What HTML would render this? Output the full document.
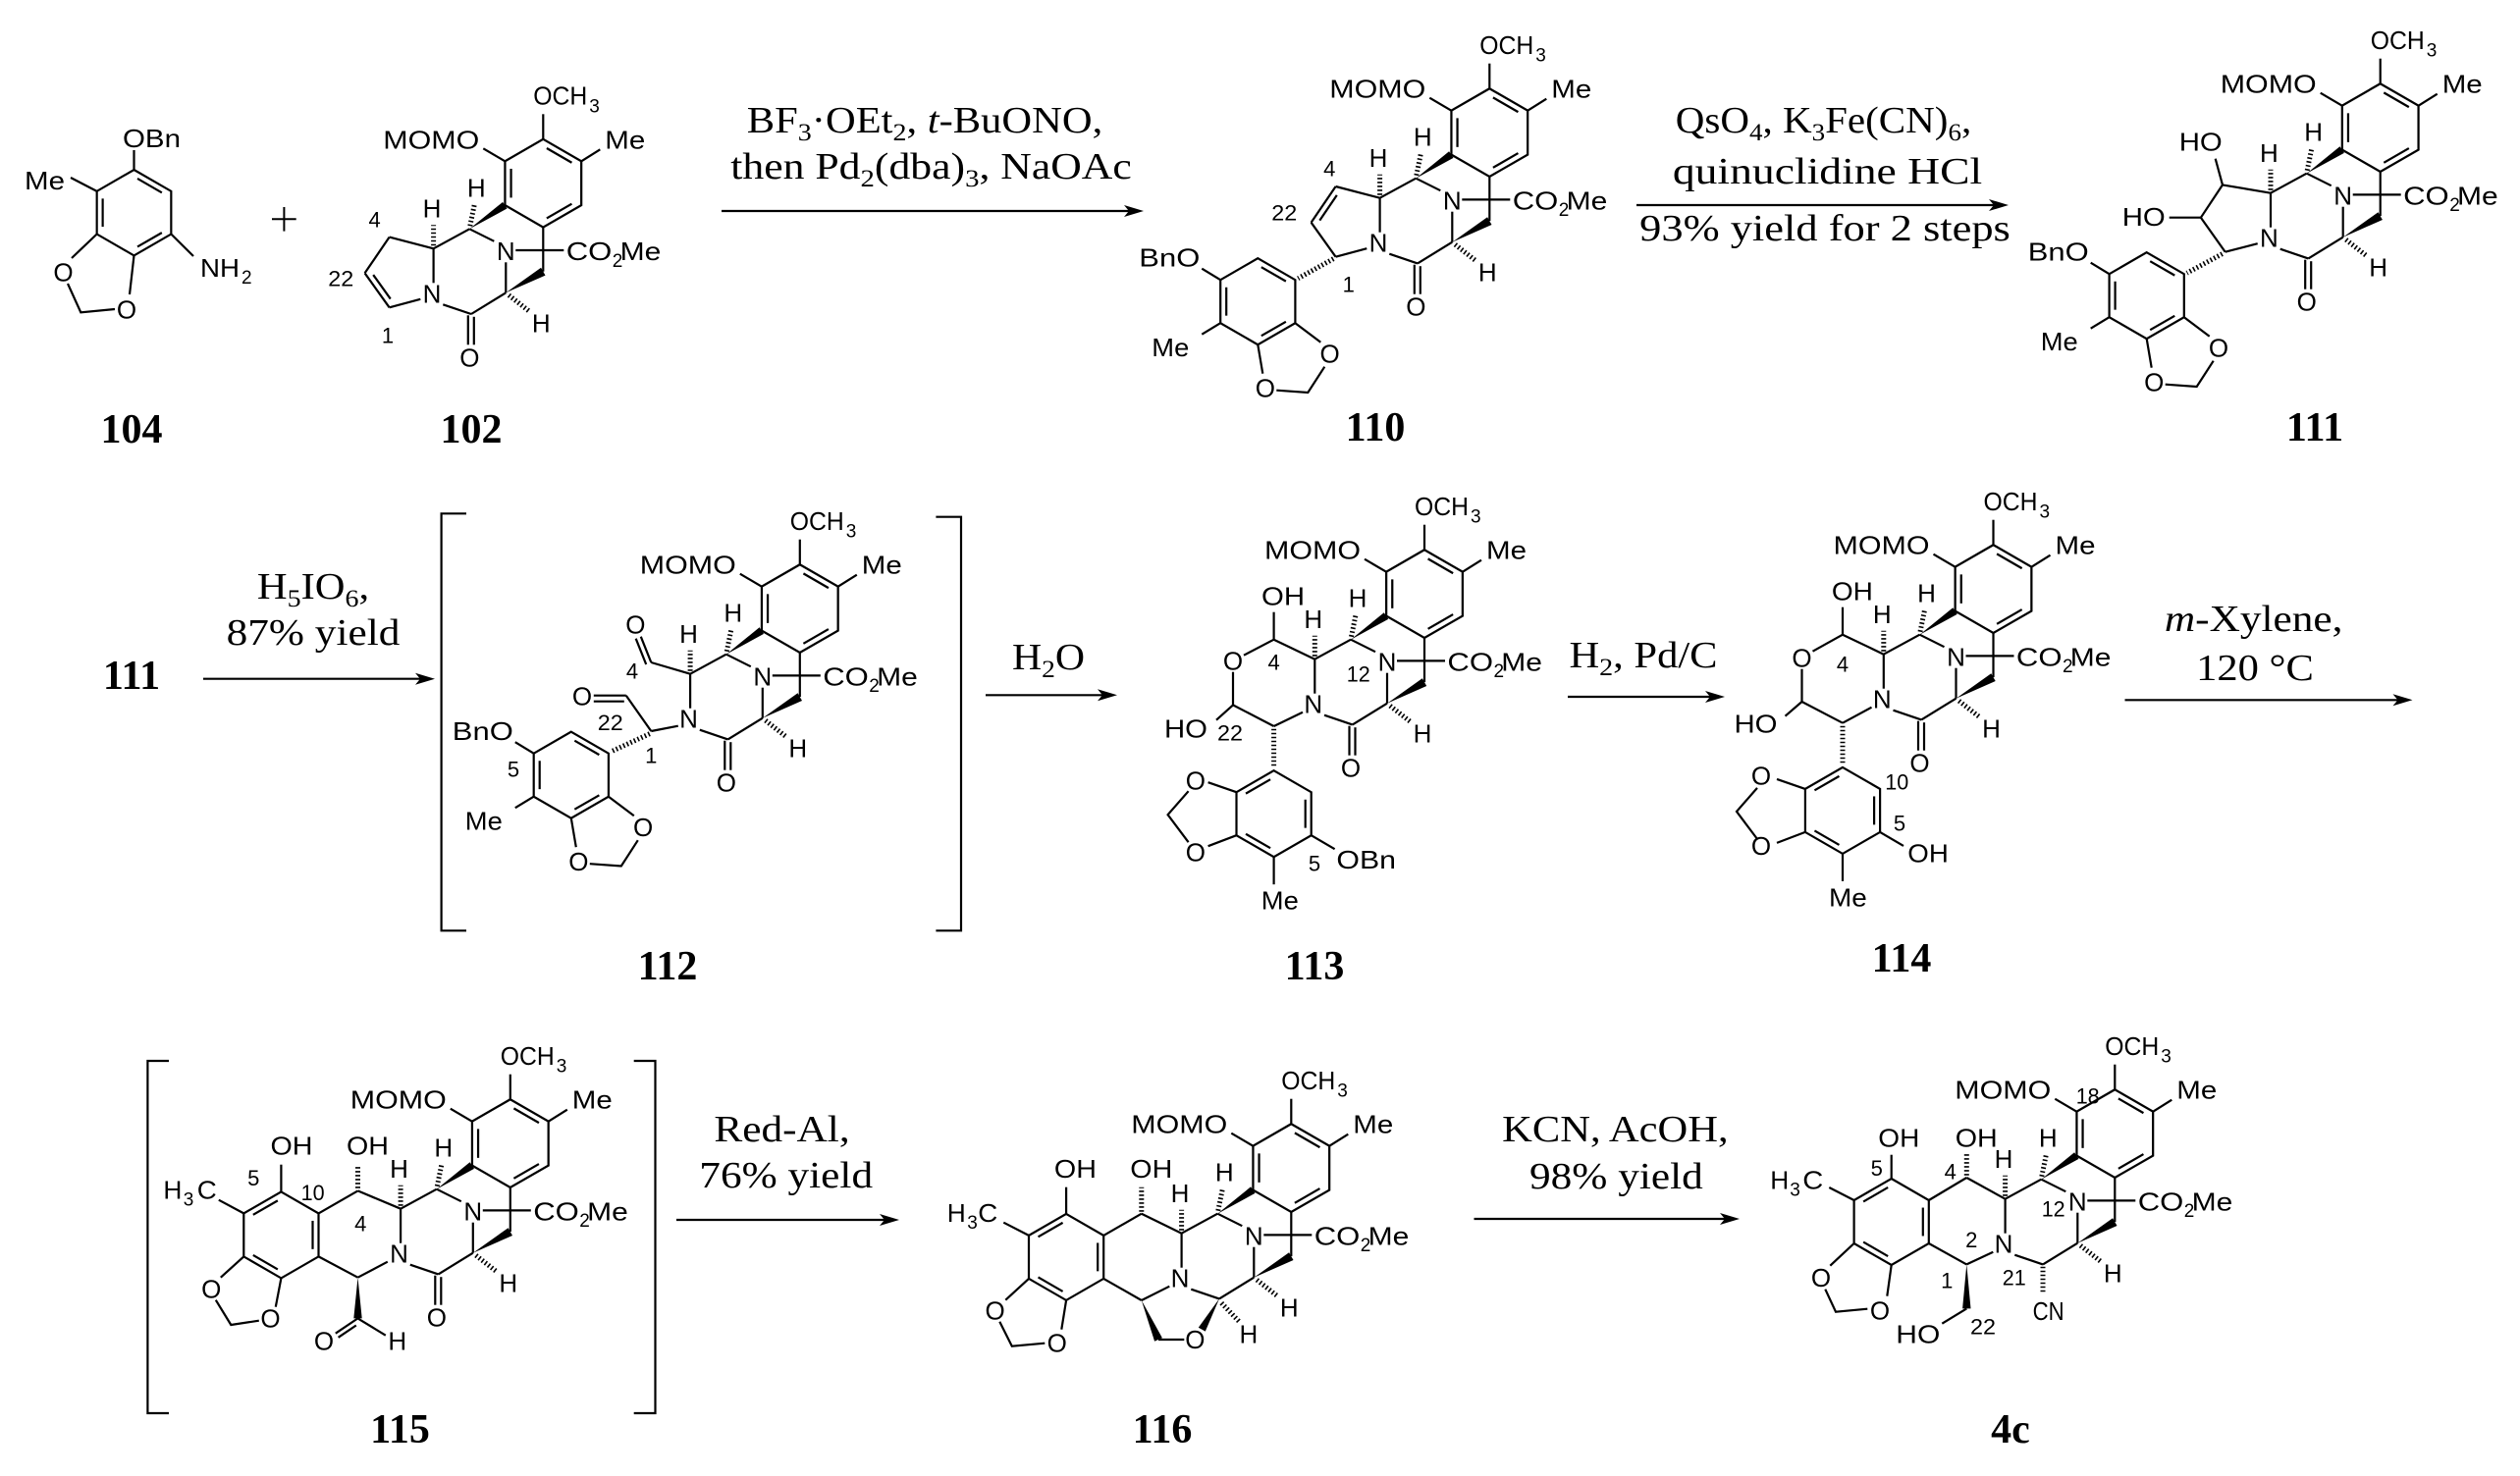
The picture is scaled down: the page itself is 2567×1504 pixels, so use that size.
<!DOCTYPE html>
<html><head><meta charset="utf-8">
<style>
html,body{margin:0;padding:0;background:#fff;}
svg{display:block;}
text{font-family:"Liberation Sans",Arial,sans-serif;font-size:26px;fill:#000;stroke:none;}
.m{text-anchor:middle;}
.n{font-size:22px;text-anchor:middle;}
.s{font-size:19px;}
.r{font-family:"Liberation Serif","Times New Roman",serif;font-size:38px;text-anchor:middle;}
.rs{font-size:25px;}
.L{font-family:"Liberation Serif","Times New Roman",serif;font-size:42px;font-weight:bold;text-anchor:middle;}
</style></head>
<body>
<svg xmlns="http://www.w3.org/2000/svg" width="2567" height="1504" viewBox="0 0 2567 1504">
<rect width="2567" height="1504" fill="#fff"/>
<defs>
<g id="hexA" stroke="#000" stroke-width="2.2" fill="none">
<polygon points="0,-44 38.1,-22 38.1,22 0,44 -38.1,22 -38.1,-22"/>
<line x1="3.53" y1="-35.03" x2="28.57" y2="-20.57"/>
<line x1="28.57" y1="20.57" x2="3.53" y2="35.03"/>
<line x1="-32.1" y1="14.45" x2="-32.1" y2="-14.45"/>
</g>
<g id="hexB" stroke="#000" stroke-width="2.2" fill="none">
<polygon points="0,-44 38.1,-22 38.1,22 0,44 -38.1,22 -38.1,-22"/>
<line x1="-28.57" y1="-20.57" x2="-3.53" y2="-35.03"/>
<line x1="32.1" y1="-14.45" x2="32.1" y2="14.45"/>
<line x1="-3.53" y1="35.03" x2="-28.57" y2="20.57"/>
</g>
<g id="core" stroke="#000" stroke-width="2.2" fill="none">
<use href="#hexA" transform="translate(75,-46.6) scale(1.02)"/>
<line x1="75" y1="-91.5" x2="75" y2="-117"/>
<line x1="36.1" y1="-69" x2="14" y2="-82"/>
<line x1="113.9" y1="-69" x2="133" y2="-81"/>
<polygon fill="#000" stroke="none" points="0,0 38.2,-20.8 33.8,-27.4"/>
<line x1="0.5" y1="-3" x2="5" y2="-25" stroke-width="5" stroke-dasharray="1.6 2.4"/>
<line x1="0" y1="0" x2="25" y2="12.5"/>
<line x1="47" y1="21.7" x2="96" y2="21.7"/>
<line x1="75" y1="-1.5" x2="75" y2="43.4"/>
<line x1="37" y1="34" x2="37" y2="65"/>
<polygon fill="#000" stroke="none" points="37,65 77.2,47.3 72.8,39.5"/>
<line x1="40" y1="67.5" x2="61" y2="84" stroke-width="5" stroke-dasharray="1.6 2.4"/>
<line x1="37" y1="65" x2="1.7" y2="86.7"/>
<line x1="1.7" y1="86.7" x2="-27" y2="77"/>
<line x1="0" y1="0" x2="-36.7" y2="20"/>
<line x1="-36.7" y1="20" x2="-36.7" y2="55"/>
<line x1="-36.7" y1="17" x2="-36.7" y2="-4" stroke-width="5" stroke-dasharray="1.6 2.4"/>
</g>
<g id="co" stroke="#000" stroke-width="2.2" fill="none">
<line x1="-1.5" y1="88" x2="-1.5" y2="118"/>
<line x1="4.5" y1="89.5" x2="4.5" y2="118"/>
</g>
<g id="arylA" stroke="#000" stroke-width="2.2" fill="none">
<use href="#hexA"/>
<line x1="-38.1" y1="-22" x2="-57" y2="-33.5"/>
<line x1="-38.1" y1="22" x2="-57" y2="33.5"/>
<line x1="38.1" y1="22" x2="64" y2="41.5"/>
<line x1="0" y1="44" x2="5" y2="73.5"/>
<polyline points="19,90.5 51,92.8 68,66.5"/>
</g>
<g id="arylB" stroke="#000" stroke-width="2.2" fill="none">
<use href="#hexB"/>
<line x1="-38.1" y1="-22" x2="-67" y2="-32"/>
<line x1="-38.1" y1="22" x2="-67" y2="33"/>
<polyline points="-87,-23 -108,1 -87,29"/>
<line x1="38.1" y1="22" x2="62" y2="36"/>
<line x1="0" y1="44" x2="0" y2="72"/>
</g>
</defs>

<!-- ================= ROW 1 ================= -->
<!-- 104 -->
<g stroke="#000" stroke-width="2.2" fill="none">
<use href="#hexA" transform="translate(136.5,216.7) scale(0.993)"/>
<line x1="136.5" y1="173" x2="136.5" y2="153"/>
<line x1="98.7" y1="194.9" x2="72" y2="181"/>
<line x1="174.3" y1="238.5" x2="197" y2="261"/>
<line x1="98.7" y1="238.5" x2="73" y2="263"/>
<line x1="136.5" y1="260.4" x2="132" y2="300"/>
<polyline points="69,289 82.3,318.3 117,315"/>
<line x1="277" y1="223.3" x2="301.7" y2="223.3" stroke-width="2"/>
<line x1="289.4" y1="211" x2="289.4" y2="235.6" stroke-width="2"/>
</g>
<text x="125" y="150" textLength="59" lengthAdjust="spacingAndGlyphs">OBn</text>
<text x="25" y="193" textLength="41" lengthAdjust="spacingAndGlyphs">Me</text>
<text x="204" y="282" textLength="40" lengthAdjust="spacingAndGlyphs">NH</text><text class="s" x="246" y="289">2</text>
<text class="m" x="64.5" y="286.5">O</text>
<text class="m" x="129" y="324.5">O</text>
<text class="L" x="134" y="451">104</text>

<!-- 102 -->
<g transform="translate(478.3,233.3)">
<use href="#core"/><use href="#co"/>
<g stroke="#000" stroke-width="2.2" fill="none">
<line x1="-36.7" y1="20" x2="-81.7" y2="8.3"/>
<line x1="-81.7" y1="8.3" x2="-106.7" y2="45"/>
<line x1="-106.7" y1="45" x2="-81.7" y2="80"/>
<line x1="-98.1" y1="46.75" x2="-80.55" y2="71.25"/>
<line x1="-81.7" y1="80" x2="-50" y2="71.5"/>
</g>
<text x="65" y="-126.7" textLength="55" lengthAdjust="spacingAndGlyphs">OCH</text><text class="s" x="122" y="-119">3</text>
<text x="-88" y="-82" textLength="98" lengthAdjust="spacingAndGlyphs">MOMO</text>
<text x="138" y="-82" textLength="41" lengthAdjust="spacingAndGlyphs">Me</text>
<text class="m" x="7" y="-33">H</text>
<text class="m" x="37" y="31.7">N</text>
<text x="98.4" y="31.7" textLength="46.6" lengthAdjust="spacingAndGlyphs">CO</text><text class="s" x="145.5" y="38.5">2</text><text x="153.3" y="31.7" textLength="41.7" lengthAdjust="spacingAndGlyphs">Me</text>
<text class="m" x="73" y="105">H</text>
<text class="m" x="-38.3" y="75">N</text>
<text class="m" x="-38.3" y="-11.7">H</text>
<text class="m" x="0" y="140">O</text>
<text class="n" x="-96.7" y="-2">4</text>
<text class="n" x="-131" y="58" textLength="26" lengthAdjust="spacingAndGlyphs">22</text>
<text class="n" x="-83.3" y="116">1</text>
</g>
<text class="L" x="480" y="451">102</text>

<!-- arrow 1 -->
<line x1="735" y1="215" x2="1150" y2="215" stroke="#000" stroke-width="2.2"/>
<polygon points="1165,215 1145,209 1150,215 1145,221" fill="#000"/>
<text class="r" transform="translate(942,135) scale(1.12,1)">BF<tspan class="rs" dy="8">3</tspan><tspan dy="-8">·OEt</tspan><tspan class="rs" dy="8">2</tspan><tspan dy="-8">, </tspan><tspan font-style="italic">t</tspan>-BuONO,</text>
<text class="r" transform="translate(948.5,182) scale(1.15,1)">then Pd<tspan class="rs" dy="8">2</tspan><tspan dy="-8">(dba)</tspan><tspan class="rs" dy="8">3</tspan><tspan dy="-8">, NaOAc</tspan></text>

<!-- 110 -->
<g transform="translate(1442.3,181.7)">
<use href="#core"/><use href="#co"/>
<g stroke="#000" stroke-width="2.2" fill="none">
<line x1="-36.7" y1="20" x2="-81.7" y2="8.3"/>
<line x1="-81.7" y1="8.3" x2="-106.7" y2="45"/>
<line x1="-80.5" y1="17.2" x2="-98" y2="42.9"/>
<line x1="-106.7" y1="45" x2="-81.7" y2="80"/>
<line x1="-81.7" y1="80" x2="-50" y2="71.5"/>
<line x1="-84" y1="82" x2="-120" y2="102" stroke-width="5" stroke-dasharray="1.6 2.4"/>
<use href="#arylA" transform="translate(-161,125.5)"/>
</g>
<text x="65" y="-126.7" textLength="55" lengthAdjust="spacingAndGlyphs">OCH</text><text class="s" x="122" y="-119">3</text>
<text x="-88" y="-82" textLength="98" lengthAdjust="spacingAndGlyphs">MOMO</text>
<text x="138" y="-82" textLength="41" lengthAdjust="spacingAndGlyphs">Me</text>
<text class="m" x="7" y="-33">H</text>
<text class="m" x="37" y="31.7">N</text>
<text x="98.4" y="31.7" textLength="46.6" lengthAdjust="spacingAndGlyphs">CO</text><text class="s" x="145.5" y="38.5">2</text><text x="153.3" y="31.7" textLength="41.7" lengthAdjust="spacingAndGlyphs">Me</text>
<text class="m" x="73" y="105">H</text>
<text class="m" x="-38.3" y="75">N</text>
<text class="m" x="-38.3" y="-11.7">H</text>
<text class="m" x="0" y="140">O</text>
<text class="n" x="-88" y="-2">4</text>
<text class="n" x="-134" y="43" textLength="26" lengthAdjust="spacingAndGlyphs">22</text>
<text class="n" x="-68.6" y="116">1</text>
<g transform="translate(-161,125.5)">
<text x="-121" y="-35.5" textLength="62" lengthAdjust="spacingAndGlyphs">BnO</text>
<text x="-108" y="56" textLength="38" lengthAdjust="spacingAndGlyphs">Me</text>
<text class="m" x="73.3" y="62.5">O</text>
<text class="m" x="7.5" y="97.5">O</text>
</g>
</g>
<text class="L" x="1401" y="449">110</text>

<!-- arrow 2 -->
<line x1="1667" y1="209" x2="2031" y2="209" stroke="#000" stroke-width="2.2"/>
<polygon points="2046,209 2026,203 2031,209 2026,215" fill="#000"/>
<text class="r" transform="translate(1857.5,135) scale(1.08,1)">QsO<tspan class="rs" dy="8">4</tspan><tspan dy="-8">, K</tspan><tspan class="rs" dy="8">3</tspan><tspan dy="-8">Fe(CN)</tspan><tspan class="rs" dy="8">6</tspan><tspan dy="-8">,</tspan></text>
<text class="r" transform="translate(1861.5,187) scale(1.2,1)">quinuclidine HCl</text>
<text class="r" transform="translate(1859,245) scale(1.17,1)">93% yield for 2 steps</text>

<!-- 111 -->
<g transform="translate(2349.7,176.7)">
<use href="#core"/><use href="#co"/>
<g stroke="#000" stroke-width="2.2" fill="none">
<line x1="-36.7" y1="20" x2="-85.7" y2="11.7"/>
<line x1="-85.7" y1="11.7" x2="-107.8" y2="45"/>
<line x1="-107.8" y1="45" x2="-83" y2="80"/>
<line x1="-83" y1="80" x2="-50" y2="71.5"/>
<line x1="-85.7" y1="11.7" x2="-93" y2="-15"/>
<line x1="-107.8" y1="45" x2="-140" y2="45"/>
<line x1="-86" y1="82" x2="-122" y2="101.5" stroke-width="5" stroke-dasharray="1.6 2.4"/>
<use href="#arylA" transform="translate(-163,124.5)"/>
</g>
<text x="65" y="-126.7" textLength="55" lengthAdjust="spacingAndGlyphs">OCH</text><text class="s" x="122" y="-119">3</text>
<text x="-88" y="-82" textLength="98" lengthAdjust="spacingAndGlyphs">MOMO</text>
<text x="138" y="-82" textLength="41" lengthAdjust="spacingAndGlyphs">Me</text>
<text class="m" x="7" y="-33">H</text>
<text class="m" x="37" y="31.7">N</text>
<text x="98.4" y="31.7" textLength="46.6" lengthAdjust="spacingAndGlyphs">CO</text><text class="s" x="145.5" y="38.5">2</text><text x="153.3" y="31.7" textLength="41.7" lengthAdjust="spacingAndGlyphs">Me</text>
<text class="m" x="73" y="105">H</text>
<text class="m" x="-38.3" y="75">N</text>
<text class="m" x="-38.3" y="-11.7">H</text>
<text class="m" x="0" y="140">O</text>
<text x="-130" y="-23" textLength="44" lengthAdjust="spacingAndGlyphs">HO</text>
<text x="-188" y="53.3" textLength="44" lengthAdjust="spacingAndGlyphs">HO</text>
<g transform="translate(-163,124.5)">
<text x="-121" y="-35.5" textLength="62" lengthAdjust="spacingAndGlyphs">BnO</text>
<text x="-108" y="56" textLength="38" lengthAdjust="spacingAndGlyphs">Me</text>
<text class="m" x="73.3" y="62.5">O</text>
<text class="m" x="7.5" y="97.5">O</text>
</g>
</g>
<text class="L" x="2358" y="449">111</text>

<!-- ================= ROW 2 ================= -->
<text class="L" x="134" y="702">111</text>
<line x1="207" y1="691.7" x2="428" y2="691.7" stroke="#000" stroke-width="2.2"/>
<polygon points="443,691.7 423,685.7 428,691.7 423,697.7" fill="#000"/>
<text class="r" transform="translate(319,610) scale(1.12,1)">H<tspan class="rs" dy="8">5</tspan><tspan dy="-8">IO</tspan><tspan class="rs" dy="8">6</tspan><tspan dy="-8">,</tspan></text>
<text class="r" transform="translate(319,657) scale(1.14,1)">87% yield</text>

<!-- bracket 112 -->
<polyline points="475,523.3 449.6,523.3 449.6,948.3 475,948.3" stroke="#000" stroke-width="2.2" fill="none"/>
<polyline points="953.4,526.7 979,526.7 979,948.3 953.4,948.3" stroke="#000" stroke-width="2.2" fill="none"/>

<!-- 112 -->
<g transform="translate(739.8,666.7)">
<use href="#core"/><use href="#co"/>
<g stroke="#000" stroke-width="2.2" fill="none">
<line x1="-36.7" y1="20" x2="-76.5" y2="8.3"/>
<line x1="-76.5" y1="8.3" x2="-87" y2="-18"/>
<line x1="-81.6" y1="10.3" x2="-92.1" y2="-16"/>
<line x1="-49" y1="73" x2="-76.5" y2="78.3"/>
<line x1="-76.5" y1="78.3" x2="-102" y2="42"/>
<line x1="-102" y1="42" x2="-135" y2="42"/>
<line x1="-104" y1="48" x2="-135" y2="48"/>
<line x1="-78" y1="81" x2="-117" y2="99" stroke-width="5" stroke-dasharray="1.6 2.4"/>
<use href="#arylA" transform="translate(-158,123)"/>
</g>
<text x="65" y="-126.7" textLength="55" lengthAdjust="spacingAndGlyphs">OCH</text><text class="s" x="122" y="-119">3</text>
<text x="-88" y="-82" textLength="98" lengthAdjust="spacingAndGlyphs">MOMO</text>
<text x="138" y="-82" textLength="41" lengthAdjust="spacingAndGlyphs">Me</text>
<text class="m" x="7" y="-33">H</text>
<text class="m" x="37" y="31.7">N</text>
<text x="98.4" y="31.7" textLength="46.6" lengthAdjust="spacingAndGlyphs">CO</text><text class="s" x="145.5" y="38.5">2</text><text x="153.3" y="31.7" textLength="41.7" lengthAdjust="spacingAndGlyphs">Me</text>
<text class="m" x="73" y="105">H</text>
<text class="m" x="-38.3" y="75">N</text>
<text class="m" x="-38.3" y="-11.7">H</text>
<text class="m" x="0" y="140">O</text>
<text class="m" x="-92.5" y="-21">O</text>
<text class="m" x="-146.8" y="52">O</text>
<text class="n" x="-95.8" y="25">4</text>
<text class="n" x="-118" y="77.5" textLength="26" lengthAdjust="spacingAndGlyphs">22</text>
<text class="n" x="-76.5" y="111">1</text>
<g transform="translate(-158,123)">
<text x="-121" y="-35.5" textLength="62" lengthAdjust="spacingAndGlyphs">BnO</text>
<text x="-108" y="56" textLength="38" lengthAdjust="spacingAndGlyphs">Me</text>
<text class="m" x="73.3" y="62.5">O</text>
<text class="m" x="7.5" y="97.5">O</text>
<text class="n" x="-58.8" y="1.6">5</text>
</g>
</g>
<text class="L" x="680" y="998">112</text>

<!-- arrow H2O -->
<line x1="1004" y1="708.3" x2="1123" y2="708.3" stroke="#000" stroke-width="2.2"/>
<polygon points="1138,708.3 1118,702.3 1123,708.3 1118,714.3" fill="#000"/>
<text class="r" transform="translate(1068,682) scale(1.1,1)">H<tspan class="rs" dy="8">2</tspan><tspan dy="-8">O</tspan></text>

<!-- 113 -->
<g transform="translate(1376,651.7)">
<use href="#core"/><use href="#co"/>
<g stroke="#000" stroke-width="2.2" fill="none">
<line x1="-36.7" y1="20" x2="-78.4" y2="0"/>
<line x1="-78.4" y1="0" x2="-78.4" y2="-28"/>
<line x1="-78.4" y1="0" x2="-109" y2="16"/>
<line x1="-120" y1="33" x2="-120" y2="66.7"/>
<line x1="-120" y1="66.7" x2="-137" y2="82"/>
<line x1="-120" y1="66.7" x2="-78.4" y2="88.3"/>
<line x1="-78.4" y1="88.3" x2="-49" y2="74"/>
<line x1="-78.4" y1="91" x2="-78.4" y2="130" stroke-width="5" stroke-dasharray="1.6 2.4"/>
<use href="#arylB" transform="translate(-78.4,177.5)"/>
</g>
<text x="65" y="-126.7" textLength="55" lengthAdjust="spacingAndGlyphs">OCH</text><text class="s" x="122" y="-119">3</text>
<text x="-88" y="-82" textLength="98" lengthAdjust="spacingAndGlyphs">MOMO</text>
<text x="138" y="-82" textLength="41" lengthAdjust="spacingAndGlyphs">Me</text>
<text class="m" x="7" y="-33">H</text>
<text class="m" x="37" y="31.7">N</text>
<text x="98.4" y="31.7" textLength="46.6" lengthAdjust="spacingAndGlyphs">CO</text><text class="s" x="145.5" y="38.5">2</text><text x="153.3" y="31.7" textLength="41.7" lengthAdjust="spacingAndGlyphs">Me</text>
<text class="m" x="73" y="105">H</text>
<text class="m" x="-38.3" y="75">N</text>
<text class="m" x="-38.3" y="-11.7">H</text>
<text class="m" x="0" y="140">O</text>
<text x="-91" y="-35" textLength="44" lengthAdjust="spacingAndGlyphs">OH</text>
<text class="m" x="-120" y="31">O</text>
<text x="-190" y="100" textLength="44" lengthAdjust="spacingAndGlyphs">HO</text>
<text class="n" x="-78.4" y="31">4</text>
<text class="n" x="-123" y="103" textLength="26" lengthAdjust="spacingAndGlyphs">22</text>
<text class="n" x="7.7" y="43" textLength="24" lengthAdjust="spacingAndGlyphs">12</text>
<text class="n" x="-37" y="236">5</text>
<g transform="translate(-78.4,177.5)">
<text class="m" x="-79.7" y="-24.9">O</text>
<text class="m" x="-79.7" y="48.4">O</text>
<text x="63.8" y="55.8" textLength="60.6" lengthAdjust="spacingAndGlyphs">OBn</text>
<text x="-12.8" y="97.5" textLength="38" lengthAdjust="spacingAndGlyphs">Me</text>
</g>
</g>
<text class="L" x="1339" y="998">113</text>

<!-- arrow H2, Pd/C -->
<line x1="1597" y1="710" x2="1742" y2="710" stroke="#000" stroke-width="2.2"/>
<polygon points="1757,710 1737,704 1742,710 1737,716" fill="#000"/>
<text class="r" transform="translate(1674,680) scale(1.12,1)">H<tspan class="rs" dy="8">2</tspan><tspan dy="-8">, Pd/C</tspan></text>

<!-- 114 -->
<g transform="translate(1955.5,646.7)">
<use href="#core"/><use href="#co"/>
<g stroke="#000" stroke-width="2.2" fill="none">
<line x1="-36.7" y1="20" x2="-78.5" y2="0"/>
<line x1="-78.5" y1="0" x2="-78.5" y2="-28"/>
<line x1="-78.5" y1="0" x2="-109" y2="17"/>
<line x1="-120" y1="35" x2="-120" y2="68.3"/>
<line x1="-120" y1="68.3" x2="-137" y2="83"/>
<line x1="-120" y1="68.3" x2="-78.5" y2="90"/>
<line x1="-78.5" y1="90" x2="-49" y2="74"/>
<line x1="-78.5" y1="93" x2="-78.5" y2="132" stroke-width="5" stroke-dasharray="1.6 2.4"/>
<use href="#arylB" transform="translate(-78.5,179.2)"/>
</g>
<text x="65" y="-126.7" textLength="55" lengthAdjust="spacingAndGlyphs">OCH</text><text class="s" x="122" y="-119">3</text>
<text x="-88" y="-82" textLength="98" lengthAdjust="spacingAndGlyphs">MOMO</text>
<text x="138" y="-82" textLength="41" lengthAdjust="spacingAndGlyphs">Me</text>
<text class="m" x="7" y="-33">H</text>
<text class="m" x="37" y="31.7">N</text>
<text x="98.4" y="31.7" textLength="46.6" lengthAdjust="spacingAndGlyphs">CO</text><text class="s" x="145.5" y="38.5">2</text><text x="153.3" y="31.7" textLength="41.7" lengthAdjust="spacingAndGlyphs">Me</text>
<text class="m" x="73" y="105">H</text>
<text class="m" x="-38.3" y="75">N</text>
<text class="m" x="-38.3" y="-11.7">H</text>
<text class="m" x="0" y="140">O</text>
<text x="-89.6" y="-35" textLength="42" lengthAdjust="spacingAndGlyphs">OH</text>
<text class="m" x="-120" y="32.6">O</text>
<text x="-189" y="100" textLength="44" lengthAdjust="spacingAndGlyphs">HO</text>
<text class="n" x="-78.5" y="38">4</text>
<text class="n" x="-23.3" y="158" textLength="24" lengthAdjust="spacingAndGlyphs">10</text>
<text class="n" x="-20.5" y="199.6">5</text>
<g transform="translate(-78.5,179.2)">
<text class="m" x="-83" y="-26.5">O</text>
<text class="m" x="-83" y="45.2">O</text>
<text x="66.3" y="52.5" textLength="41.5" lengthAdjust="spacingAndGlyphs">OH</text>
<text x="-14" y="97.5" textLength="38.8" lengthAdjust="spacingAndGlyphs">Me</text>
</g>
</g>
<text class="L" x="1937" y="990">114</text>

<!-- arrow m-xylene -->
<line x1="2164.5" y1="713.3" x2="2442.5" y2="713.3" stroke="#000" stroke-width="2.2"/>
<polygon points="2457.5,713.3 2437.5,707.3 2442.5,713.3 2437.5,719.3" fill="#000"/>
<text class="r" transform="translate(2295.7,643) scale(1.14,1)"><tspan font-style="italic">m</tspan>-Xylene,</text>
<text class="r" transform="translate(2297,693) scale(1.12,1)">120 °C</text>

<!-- ================= ROW 3 ================= -->
<!-- brackets 115 -->
<polyline points="172,1081 150.4,1081 150.4,1440 172,1440" stroke="#000" stroke-width="2.2" fill="none"/>
<polyline points="645.7,1081 667.5,1081 667.5,1440 645.7,1440" stroke="#000" stroke-width="2.2" fill="none"/>

<!-- 115 -->
<g transform="translate(444.8,1211.7)">
<use href="#core"/><use href="#co"/>
<g stroke="#000" stroke-width="2.2" fill="none">
<line x1="-36.7" y1="20" x2="-80.3" y2="1.7"/>
<line x1="-80.3" y1="-1" x2="-80.3" y2="-25" stroke-width="5" stroke-dasharray="1.6 2.4"/>
<line x1="-80.3" y1="1.7" x2="-120.3" y2="24.7"/>
<use href="#hexB" transform="translate(-158.4,46.7)"/>
<line x1="-120.3" y1="68.7" x2="-80.3" y2="90"/>
<line x1="-80.3" y1="90" x2="-50" y2="74"/>
<line x1="-158.4" y1="2.7" x2="-158.4" y2="-25"/>
<line x1="-196.5" y1="24.7" x2="-222" y2="11"/>
<line x1="-196.5" y1="68.7" x2="-220" y2="90"/>
<line x1="-158.4" y1="90.7" x2="-164" y2="120"/>
<polyline points="-225,113 -209.5,138.3 -181,134"/>
<polygon fill="#000" stroke="none" points="-80.3,90 -84.5,131.7 -76.1,131.7"/>
<line x1="-80.3" y1="131.7" x2="-103" y2="147"/>
<line x1="-82" y1="138.8" x2="-100.2" y2="151.1"/>
<line x1="-80.3" y1="131.7" x2="-52" y2="149"/>
</g>
<text x="65" y="-126.7" textLength="55" lengthAdjust="spacingAndGlyphs">OCH</text><text class="s" x="122" y="-119">3</text>
<text x="-88" y="-82" textLength="98" lengthAdjust="spacingAndGlyphs">MOMO</text>
<text x="138" y="-82" textLength="41" lengthAdjust="spacingAndGlyphs">Me</text>
<text class="m" x="7" y="-33">H</text>
<text class="m" x="37" y="31.7">N</text>
<text x="98.4" y="31.7" textLength="46.6" lengthAdjust="spacingAndGlyphs">CO</text><text class="s" x="145.5" y="38.5">2</text><text x="153.3" y="31.7" textLength="41.7" lengthAdjust="spacingAndGlyphs">Me</text>
<text class="m" x="73" y="105">H</text>
<text class="m" x="-38.3" y="75">N</text>
<text class="m" x="-38.3" y="-11.7">H</text>
<text class="m" x="0" y="140">O</text>
<text x="-91.8" y="-35" textLength="43" lengthAdjust="spacingAndGlyphs">OH</text>
<text x="-169.3" y="-35" textLength="43" lengthAdjust="spacingAndGlyphs">OH</text>
<text x="-278.4" y="10" textLength="19" lengthAdjust="spacingAndGlyphs">H</text><text class="s" x="-258" y="17">3</text><text x="-244" y="10" textLength="20" lengthAdjust="spacingAndGlyphs">C</text>
<text class="m" x="-229.6" y="111">O</text>
<text class="m" x="-169.3" y="141">O</text>
<text class="m" x="-114.8" y="164">O</text>
<text class="m" x="-40" y="164">H</text>
<text class="n" x="-186.5" y="-3.5">5</text>
<text class="n" x="-126.2" y="11.5" textLength="24" lengthAdjust="spacingAndGlyphs">10</text>
<text class="n" x="-77.5" y="43">4</text>
</g>
<text class="L" x="407.5" y="1470">115</text>

<!-- arrow Red-Al -->
<line x1="689" y1="1243" x2="901" y2="1243" stroke="#000" stroke-width="2.2"/>
<polygon points="916,1243 896,1237 901,1243 896,1249" fill="#000"/>
<text class="r" transform="translate(796.5,1163) scale(1.14,1)">Red-Al,</text>
<text class="r" transform="translate(800.7,1210) scale(1.14,1)">76% yield</text>

<!-- 116 -->
<g transform="translate(1240.3,1236.7)">
<use href="#core"/>
<g stroke="#000" stroke-width="2.2" fill="none">
<line x1="-36.7" y1="20" x2="-77.5" y2="0"/>
<line x1="-77.5" y1="-2" x2="-77.5" y2="-27" stroke-width="5" stroke-dasharray="1.6 2.4"/>
<line x1="-77.5" y1="0" x2="-116.1" y2="22.2"/>
<use href="#hexB" transform="translate(-154.2,44.2)"/>
<line x1="-116.1" y1="66.2" x2="-77.5" y2="88.3"/>
<line x1="-77.5" y1="88.3" x2="-49" y2="74"/>
<line x1="-154.2" y1="0.2" x2="-154.2" y2="-27"/>
<line x1="-192.3" y1="22.2" x2="-218" y2="9"/>
<line x1="-192.3" y1="66.2" x2="-216" y2="88"/>
<line x1="-154.2" y1="88.2" x2="-159" y2="118"/>
<polyline points="-222,110 -209.5,135 -176,132"/>
<polygon fill="#000" stroke="none" points="-77.5,88.3 -56.4,126.6 -64.2,130"/>
<line x1="-60.3" y1="128.3" x2="-34" y2="128.3"/>
<polygon fill="#000" stroke="none" points="1.7,86.7 -12.5,119.9 -19.5,116.1"/>
<line x1="4" y1="91" x2="22" y2="110" stroke-width="5" stroke-dasharray="1.6 2.4"/>
</g>
<text x="65" y="-126.7" textLength="55" lengthAdjust="spacingAndGlyphs">OCH</text><text class="s" x="122" y="-119">3</text>
<text x="-88" y="-82" textLength="98" lengthAdjust="spacingAndGlyphs">MOMO</text>
<text x="138" y="-82" textLength="41" lengthAdjust="spacingAndGlyphs">Me</text>
<text class="m" x="7" y="-33">H</text>
<text class="m" x="37" y="31.7">N</text>
<text x="98.4" y="31.7" textLength="46.6" lengthAdjust="spacingAndGlyphs">CO</text><text class="s" x="145.5" y="38.5">2</text><text x="153.3" y="31.7" textLength="41.7" lengthAdjust="spacingAndGlyphs">Me</text>
<text class="m" x="73" y="105">H</text>
<text class="m" x="-38.3" y="75">N</text>
<text class="m" x="-38.3" y="-11.7">H</text>
<text x="-89" y="-36.7" textLength="43" lengthAdjust="spacingAndGlyphs">OH</text>
<text x="-166.4" y="-36.7" textLength="43" lengthAdjust="spacingAndGlyphs">OH</text>
<text x="-275.5" y="8.3" textLength="19" lengthAdjust="spacingAndGlyphs">H</text><text class="s" x="-255" y="15.3">3</text><text x="-244" y="8.3" textLength="20" lengthAdjust="spacingAndGlyphs">C</text>
<text class="m" x="-226.7" y="107.8">O</text>
<text class="m" x="-163.6" y="141">O</text>
<text class="m" x="-23" y="137.5">O</text>
<text class="m" x="31.6" y="132">H</text>
</g>
<text class="L" x="1184" y="1470">116</text>

<!-- arrow KCN -->
<line x1="1501.5" y1="1242" x2="1757" y2="1242" stroke="#000" stroke-width="2.2"/>
<polygon points="1772,1242 1752,1236 1757,1242 1752,1248" fill="#000"/>
<text class="r" transform="translate(1645.4,1163) scale(1.12,1)">KCN, AcOH,</text>
<text class="r" transform="translate(1646.4,1211) scale(1.14,1)">98% yield</text>

<!-- 4c -->
<g transform="translate(2079.3,1201.7)">
<use href="#core"/>
<g stroke="#000" stroke-width="2.2" fill="none">
<line x1="-36.7" y1="20" x2="-76" y2="-1.7"/>
<line x1="-76" y1="-4" x2="-76" y2="-27" stroke-width="5" stroke-dasharray="1.6 2.4"/>
<line x1="-76" y1="-1.7" x2="-114.5" y2="21.3"/>
<use href="#hexB" transform="translate(-152.6,43.3)"/>
<line x1="-114.5" y1="65.3" x2="-76" y2="86.7"/>
<line x1="-76" y1="86.7" x2="-49" y2="74"/>
<line x1="-152.6" y1="-0.7" x2="-152.6" y2="-25"/>
<line x1="-190.7" y1="21.3" x2="-216" y2="8.3"/>
<line x1="-190.7" y1="65.3" x2="-215" y2="88"/>
<line x1="-152.6" y1="87.3" x2="-157" y2="119"/>
<polyline points="-220,112 -209.3,135 -177,132"/>
<polygon fill="#000" stroke="none" points="-76,86.7 -80.2,131.7 -71.8,131.7"/>
<line x1="-76" y1="131.7" x2="-101" y2="147"/>
<line x1="1.7" y1="89" x2="1.7" y2="117" stroke-width="5" stroke-dasharray="1.6 2.4"/>
</g>
<text x="65" y="-126.7" textLength="55" lengthAdjust="spacingAndGlyphs">OCH</text><text class="s" x="122" y="-119">3</text>
<text x="-88" y="-82" textLength="98" lengthAdjust="spacingAndGlyphs">MOMO</text>
<text x="138" y="-82" textLength="41" lengthAdjust="spacingAndGlyphs">Me</text>
<text class="m" x="7" y="-33">H</text>
<text class="m" x="37" y="31.7">N</text>
<text x="98.4" y="31.7" textLength="46.6" lengthAdjust="spacingAndGlyphs">CO</text><text class="s" x="145.5" y="38.5">2</text><text x="153.3" y="31.7" textLength="41.7" lengthAdjust="spacingAndGlyphs">Me</text>
<text class="m" x="73" y="105">H</text>
<text class="m" x="-38.3" y="75">N</text>
<text class="m" x="-38.3" y="-11.7">H</text>
<text x="-87.6" y="-33.3" textLength="43" lengthAdjust="spacingAndGlyphs">OH</text>
<text x="-166" y="-33.3" textLength="42" lengthAdjust="spacingAndGlyphs">OH</text>
<text x="-276" y="10" textLength="19" lengthAdjust="spacingAndGlyphs">H</text><text class="s" x="-256" y="17">3</text><text x="-243" y="10" textLength="21" lengthAdjust="spacingAndGlyphs">C</text>
<text class="m" x="-224.3" y="109.5">O</text>
<text class="m" x="-164.3" y="142.8">O</text>
<text x="-148" y="166.7" textLength="45" lengthAdjust="spacingAndGlyphs">HO</text>
<text class="m" x="7.3" y="143.3" textLength="32" lengthAdjust="spacingAndGlyphs">CN</text>
<text class="n" x="47.4" y="-77" textLength="24" lengthAdjust="spacingAndGlyphs">18</text>
<text class="n" x="-167.6" y="-3.5">5</text>
<text class="n" x="-92.6" y="0">4</text>
<text class="n" x="12.4" y="38" textLength="24" lengthAdjust="spacingAndGlyphs">12</text>
<text class="n" x="-71" y="69.5">2</text>
<text class="n" x="-96" y="111">1</text>
<text class="n" x="-27.6" y="108" textLength="24" lengthAdjust="spacingAndGlyphs">21</text>
<text class="n" x="-59.3" y="158" textLength="26" lengthAdjust="spacingAndGlyphs">22</text>
</g>
<text class="L" x="2048" y="1470">4c</text>
</svg>
</body></html>
